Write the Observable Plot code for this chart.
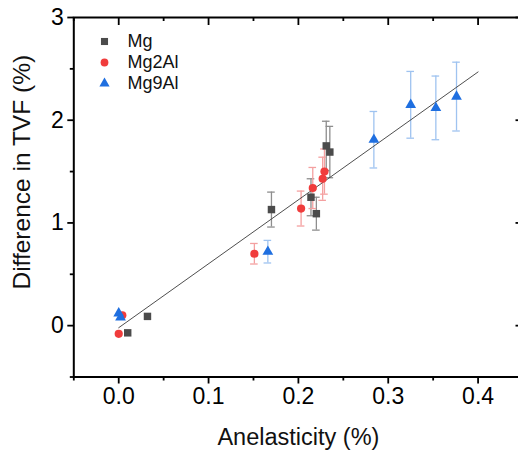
<!DOCTYPE html>
<html><head><meta charset="utf-8">
<script src="https://cdn.jsdelivr.net/npm/d3@7"></script>
<script src="https://cdn.jsdelivr.net/npm/@observablehq/plot@0.6"></script>
<style>
html,body{margin:0;padding:0;overflow:hidden;background:#fff;width:518px;height:455px}
#chart svg{max-width:none !important;display:block}
</style></head><body><div id="chart"></div>
<script>
// ---- data ----
const seriesNames = ["Mg", "Mg2Al", "Mg9Al"];
const mgX   = [0.010, 0.032, 0.170, 0.214, 0.220, 0.231, 0.235];
const mgY   = [-0.07, 0.09, 1.13, 1.25, 1.09, 1.75, 1.69];
const mgErr = [0, 0, 0.17, 0.18, 0.16, 0.24, 0.25];
const mg2X   = [0.000, 0.004, 0.151, 0.203, 0.216, 0.227, 0.229];
const mg2Y   = [-0.08, 0.10, 0.70, 1.14, 1.34, 1.43, 1.50];
const mg2Err = [0, 0, 0.10, 0.17, 0.20, 0.21, 0.22];
const mg9X   = [0.000, 0.002, 0.166, 0.284, 0.325, 0.353, 0.376];
const mg9Y   = [0.12, 0.08, 0.72, 1.81, 2.15, 2.12, 2.23];
const mg9Err = [0, 0, 0.11, 0.275, 0.325, 0.31, 0.335];
const fitX = [0.0, 0.4];
const fitY = [-0.02, 2.47];
const xMajor = [0, 0.1, 0.2, 0.3, 0.4];
const xMinor = [-0.05, 0.05, 0.15, 0.25, 0.35, 0.45];
const yMajor = [0, 1, 2, 3];
const yMinor = [-0.5, 0.5, 1.5, 2.5];
const xTitle = "Anelasticity (%)";
const yTitle = "Difference in TVF (%)";

// ---- styles ----
const styles = [
  {symbol: "square",   fill: "#4b4b4b", err: "#8e8e8e", r: 4.2},
  {symbol: "circle",   fill: "#f03c3c", err: "#f4a0a0", r: 4.1},
  {symbol: "triangle", fill: "#1f6fe0", err: "#9fc3f0", r: 4.0}
];
const raw = [[mgX, mgY, mgErr], [mg2X, mg2Y, mg2Err], [mg9X, mg9Y, mg9Err]];
const series = raw.map(([xs, ys, es], k) => xs.map((x, i) => ({name: seriesNames[k], x, y: ys[i], e: es[i]})));

const W = 524, H = 455, mL = 73.3, mR = 1.5, mT = 17, mB = 78.5;
const fw = W - mL - mR, fh = H - mT - mB;
const font = "Liberation Sans, Arial, sans-serif";

const marks = [];
// error bars
series.forEach((rows, k) => {
  const st = styles[k];
  const er = rows.filter(d => d.e > 0);
  marks.push(Plot.ruleX(er, {x: "x", y1: d => d.y - d.e, y2: d => d.y + d.e, stroke: st.err, strokeWidth: 1.3}));
  marks.push(Plot.ruleY(er, {y: d => d.y + d.e, x1: "x", x2: "x", insetLeft: -3.8, insetRight: -3.8, stroke: st.err, strokeWidth: 1.3}));
  marks.push(Plot.ruleY(er, {y: d => d.y - d.e, x1: "x", x2: "x", insetLeft: -3.8, insetRight: -3.8, stroke: st.err, strokeWidth: 1.3}));
});
// fit line
marks.push(Plot.line(fitX.map((x, i) => ({x, y: fitY[i]})), {x: "x", y: "y", stroke: "#3a3a3a", strokeWidth: 0.9}));
// markers
series.forEach((rows, k) => {
  const st = styles[k];
  marks.push(Plot.dot(rows, {x: "x", y: "y", symbol: st.symbol, fill: st.fill, r: st.r, stroke: "none"}));
});
// legend
seriesNames.forEach((name, k) => {
  const st = styles[k];
  marks.push(Plot.dot([name], {frameAnchor: "top-left", dx: 104 - mL, dy: 41 + 21 * k - mT, symbol: st.symbol, fill: st.fill, r: st.r * 0.95, stroke: "none"}));
  marks.push(Plot.text([name], {text: d => d, frameAnchor: "top-left", dx: 127 - mL, dy: 41 + 21 * k - mT, textAnchor: "start", lineAnchor: "middle", fontSize: 18, fill: "#111"}));
});
// axes
marks.push(Plot.axisX({anchor: "bottom", ticks: xMajor, tickSize: 7, tickPadding: 4, tickFormat: d3.format(".1f"), fontSize: 23, label: null, strokeWidth: 1.8}));
marks.push(Plot.axisX({anchor: "bottom", ticks: xMinor, tickSize: 4, tickFormat: () => "", label: null, strokeWidth: 1.8}));
marks.push(Plot.axisY({anchor: "left", ticks: yMajor, tickSize: 6, tickPadding: 4, tickFormat: d3.format("d"), fontSize: 23, label: null, strokeWidth: 1.8}));
marks.push(Plot.axisY({anchor: "left", ticks: yMinor, tickSize: 3.5, tickFormat: () => "", label: null, strokeWidth: 1.8}));
// mirrored inward ticks (top, right)
marks.push(Plot.tickX(xMajor, {x: d => d, insetBottom: fh - 8, stroke: "black", strokeWidth: 1.8}));
marks.push(Plot.tickX(xMinor, {x: d => d, insetBottom: fh - 4, stroke: "black", strokeWidth: 1.8}));
marks.push(Plot.tickY(yMajor, {y: d => d, insetLeft: fw - 7, stroke: "black", strokeWidth: 1.8}));
marks.push(Plot.tickY(yMinor, {y: d => d, insetLeft: fw - 3.5, stroke: "black", strokeWidth: 1.8}));
marks.push(Plot.frame({stroke: "black", strokeWidth: 2}));
// titles
marks.push(Plot.text([xTitle], {text: d => d, frameAnchor: "bottom", dy: 60, textAnchor: "middle", lineAnchor: "middle", fontSize: 23.5, fill: "#111"}));
marks.push(Plot.text([yTitle], {text: d => d, frameAnchor: "left", dx: 22 - mL, dy: -25, rotate: -90, textAnchor: "middle", lineAnchor: "middle", fontSize: 24.5, fill: "#111"}));

const chart = Plot.plot({
  width: W, height: H,
  marginLeft: mL, marginRight: mR, marginTop: mT, marginBottom: mB,
  x: {domain: [-0.05, 0.45]},
  y: {domain: [-0.5, 3]},
  style: {fontFamily: font, background: "white", color: "black"},
  marks
});
document.getElementById("chart").appendChild(chart);
</script></body></html>
